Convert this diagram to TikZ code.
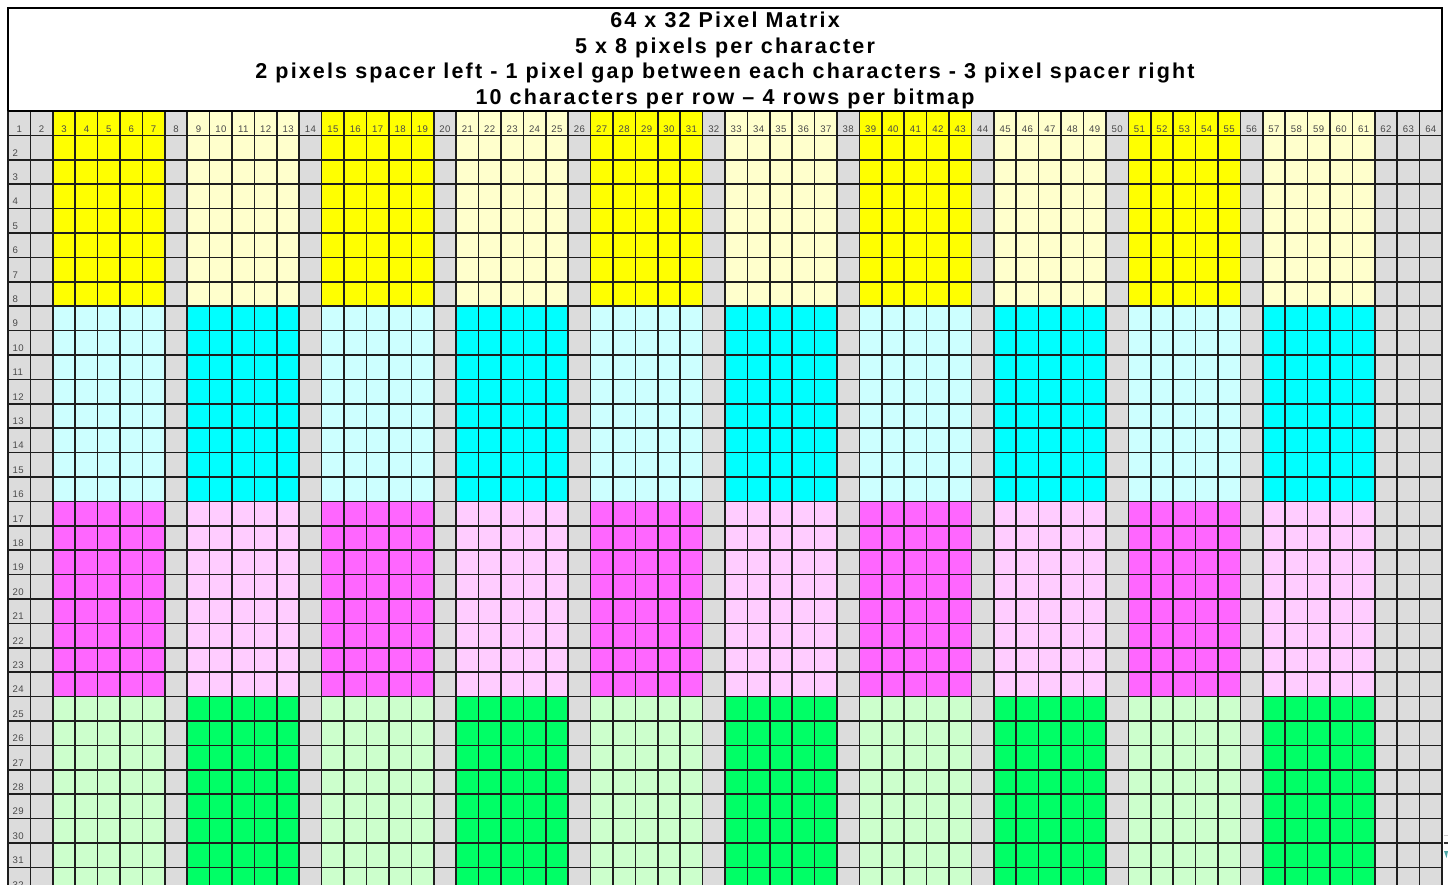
\documentclass[tikz,border=0pt]{standalone}
\usepackage{fontspec}
\setmainfont{Liberation Sans}
\newfontfamily\titlefont[LetterSpace=10]{Liberation Sans}
\newfontfamily\numfont[LetterSpace=4]{Liberation Sans}
\definecolor{spacer}{HTML}{DCDCDC}
\definecolor{yel}{HTML}{FFFF00}
\definecolor{lyel}{HTML}{FFFFCC}
\definecolor{lcyan}{HTML}{CCFFFF}
\definecolor{cyn}{HTML}{00FFFF}
\definecolor{mag}{HTML}{FF66FF}
\definecolor{lmag}{HTML}{FFCCFF}
\definecolor{lgrn}{HTML}{CCFFCC}
\definecolor{grn}{HTML}{00FF66}
\definecolor{numcol}{HTML}{4A4A4A}
\definecolor{gridcol}{HTML}{1E1E1E}
\tikzset{
  gridline/.style={draw=gridcol, line width=1.6pt},
  num/.style={inner sep=0pt, text=numcol, font=\numfont\fontsize{9.6}{10}\selectfont},
  title/.style={inner sep=0pt, anchor=base, font=\titlefont\fontsize{21.5}{23}\selectfont\bfseries},
}
\begin{document}
\begin{tikzpicture}[x=1pt,y=-1pt]
\def\w{22.406}
\def\h{24.4}
\useasboundingbox (0,0) rectangle (1448,884);
\fill[white] (0,0) rectangle (1448,884);
% header box
\draw[line width=1.8pt, draw=black] (8,8) rectangle (1442,111);
\node[title] (t1) at (725,27) {64 x 32 Pixel Matrix};
\node[title] (t2) at (725,53) {5 x 8 pixels per character};
\node[title] (t3) at (725,78.5) {2 pixels spacer left - 1 pixel gap between each characters - 3 pixel spacer right};
\node[title] (t4) at (725,104) {10 characters per row – 4 rows per bitmap};
\begin{scope}
\clip (0,0) rectangle (1448,884);
\fill[spacer] (8,111) rectangle (1442,{111+32*\h});
\foreach \b/\e/\o in {0/yel/lyel,1/lcyan/cyn,2/mag/lmag,3/lgrn/grn}{
  \foreach \j in {0,2,4,6,8}
    \fill[\e] ({8+(2+6*\j)*\w},{111+8*\b*\h}) rectangle ++({5*\w},{8*\h});
  \foreach \j in {1,3,5,7,9}
    \fill[\o] ({8+(2+6*\j)*\w},{111+8*\b*\h}) rectangle ++({5*\w},{8*\h});
}
\foreach \i in {0,...,64}
  \draw[gridline] ({8+\i*\w},111) -- ++(0,{32*\h});
\foreach \r in {0,...,32}
  \draw[gridline] (8,{111+\r*\h}) -- (1442,{111+\r*\h});
\draw[line width=2pt, draw=black] (8,111) -- (1442,111);
\foreach \c in {1,...,64}
  \node[num, anchor=base] (c\c) at ({8+(\c-0.5)*\w},132) {\c};
\foreach \r in {2,...,32}
  \node[num, anchor=base west] (r\r) at (12.5,{111+(\r-1)*\h+20.6}) {\r};
\end{scope}
% cut-off element at the right edge
\draw[draw=gray!40, line width=0.8pt] (1443.5,835) -- (1448,835);
\draw[draw=black!80, line width=1.2pt] (1443.5,843) -- (1448,843);
\fill[teal!70] (1444,851) -- (1448,851) -- (1446.5,858) -- cycle;
\end{tikzpicture}
\end{document}
